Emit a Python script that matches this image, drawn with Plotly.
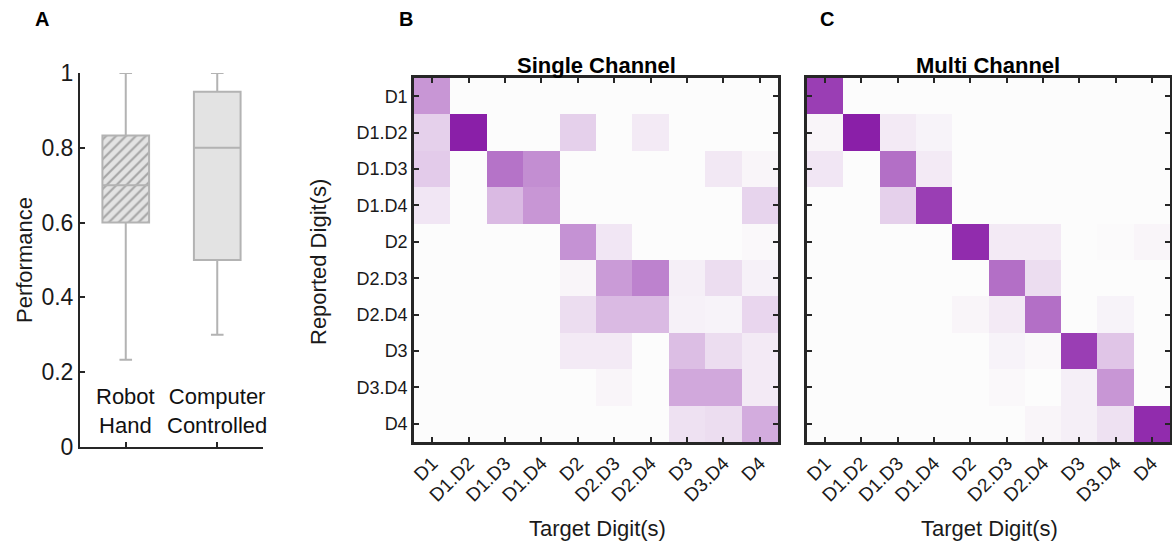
import plotly.graph_objects as go

FONT = "Liberation Sans, Arial, sans-serif"
DARK = "#262626"

# ---------------- Panel A data ----------------
group_labels = ["Robot<br>Hand", "Computer<br>Controlled"]
group_pos = [1, 2]
perf_q1 = [0.6, 0.5]
perf_median = [0.7, 0.8]
perf_q3 = [0.833, 0.95]
perf_low = [0.233, 0.3]
perf_high = [1.0, 1.0]
perf_ticks = [0, 0.2, 0.4, 0.6, 0.8, 1]
perf_ticklabels = ["0", "0.2", "0.4", "0.6", "0.8", "1"]

# ---------------- Panels B/C data ----------------
digits = ["D1", "D1.D2", "D1.D3", "D1.D4", "D2", "D2.D3", "D2.D4", "D3", "D3.D4", "D4"]

# rows = reported digit(s), columns = target digit(s)
single_channel = [
    [0.46, 0.00, 0.00, 0.00, 0.00, 0.00, 0.00, 0.00, 0.00, 0.00],
    [0.20, 1.00, 0.00, 0.00, 0.20, 0.00, 0.08, 0.00, 0.00, 0.00],
    [0.22, 0.00, 0.62, 0.50, 0.00, 0.00, 0.00, 0.00, 0.09, 0.03],
    [0.10, 0.00, 0.30, 0.46, 0.00, 0.00, 0.00, 0.00, 0.00, 0.18],
    [0.00, 0.00, 0.00, 0.00, 0.48, 0.10, 0.00, 0.00, 0.00, 0.02],
    [0.00, 0.00, 0.00, 0.00, 0.03, 0.44, 0.55, 0.06, 0.14, 0.05],
    [0.00, 0.00, 0.00, 0.00, 0.14, 0.30, 0.30, 0.05, 0.04, 0.17],
    [0.00, 0.00, 0.00, 0.00, 0.08, 0.08, 0.00, 0.28, 0.14, 0.08],
    [0.00, 0.00, 0.00, 0.00, 0.00, 0.03, 0.00, 0.38, 0.38, 0.08],
    [0.00, 0.00, 0.00, 0.00, 0.00, 0.00, 0.00, 0.12, 0.14, 0.36],
]

multi_channel = [
    [0.86, 0.00, 0.00, 0.00, 0.00, 0.00, 0.00, 0.00, 0.00, 0.00],
    [0.03, 1.00, 0.08, 0.04, 0.00, 0.00, 0.00, 0.00, 0.00, 0.00],
    [0.10, 0.00, 0.64, 0.08, 0.00, 0.00, 0.00, 0.00, 0.00, 0.00],
    [0.00, 0.00, 0.20, 0.86, 0.00, 0.00, 0.00, 0.00, 0.00, 0.00],
    [0.00, 0.00, 0.00, 0.00, 0.94, 0.08, 0.08, 0.00, 0.01, 0.03],
    [0.00, 0.00, 0.00, 0.00, 0.00, 0.64, 0.14, 0.00, 0.00, 0.00],
    [0.00, 0.00, 0.00, 0.00, 0.03, 0.08, 0.64, 0.00, 0.04, 0.00],
    [0.00, 0.00, 0.00, 0.00, 0.00, 0.04, 0.02, 0.86, 0.25, 0.00],
    [0.00, 0.00, 0.00, 0.00, 0.00, 0.02, 0.00, 0.06, 0.46, 0.00],
    [0.00, 0.00, 0.00, 0.00, 0.00, 0.00, 0.03, 0.06, 0.12, 0.94],
]

W, H = 1172, 553


def px_x(p):
    return p / W


def px_y(p):
    return 1 - p / H


fig = go.Figure()

BOX_LINE = "#b3b3b3"
BOX_FILL = "#e3e3e3"

# hatched fill for the Robot Hand box (drawn under its outline)
fig.add_trace(go.Bar(
    x=[group_pos[0]], y=[perf_q3[0] - perf_q1[0]], base=[perf_q1[0]],
    width=0.51,
    marker=dict(color=BOX_FILL, line=dict(width=0),
                pattern=dict(shape="/", fgcolor="#a6a6a6", bgcolor=BOX_FILL,
                             size=7, solidity=0.3)),
    xaxis="x", yaxis="y", showlegend=False, hoverinfo="skip",
))

fill_colors = ["rgba(0,0,0,0)", BOX_FILL]
for i in range(2):
    fig.add_trace(go.Box(
        x=[group_pos[i]], q1=[perf_q1[i]], median=[perf_median[i]], q3=[perf_q3[i]],
        lowerfence=[perf_low[i]], upperfence=[perf_high[i]],
        width=0.51, whiskerwidth=0.27, boxpoints=False,
        fillcolor=fill_colors[i], line=dict(color=BOX_LINE, width=2),
        xaxis="x", yaxis="y", showlegend=False,
    ))

colorscale = [[0, "#fcfcfc"], [1, "#8a1fa8"]]
fig.add_trace(go.Heatmap(z=single_channel, x=digits, y=digits, zmin=0, zmax=1,
                         colorscale=colorscale, showscale=False,
                         xaxis="x2", yaxis="y2"))
fig.add_trace(go.Heatmap(z=multi_channel, x=digits, y=digits, zmin=0, zmax=1,
                         colorscale=colorscale, showscale=False,
                         xaxis="x3", yaxis="y3"))

hm_top, hm_bot = px_y(78), px_y(442)

heat_x = dict(showline=True, linecolor=DARK, linewidth=2.5, mirror="ticks",
              ticks="inside", ticklen=5, tickwidth=1.5, tickcolor=DARK,
              tickangle=-45, tickfont=dict(family=FONT, size=19, color="#1a1a1a"),
              showgrid=False, zeroline=False, fixedrange=True, automargin=False)
heat_y = dict(showline=True, linecolor=DARK, linewidth=2.5, mirror="ticks",
              ticks="inside", ticklen=5, tickwidth=1.5, tickcolor=DARK,
              autorange="reversed", tickfont=dict(family=FONT, size=18, color="#1a1a1a"),
              showgrid=False, zeroline=False, fixedrange=True, domain=[hm_bot, hm_top],
              automargin=False)

fig.update_layout(
    template="none",
    width=W, height=H, autosize=False,
    margin=dict(l=0, r=0, t=0, b=0, pad=0, autoexpand=False),
    paper_bgcolor="white", plot_bgcolor="white",
    font=dict(family=FONT, color="#1a1a1a"),
    barmode="overlay", boxmode="overlay",
    xaxis=dict(domain=[px_x(80), px_x(263)], range=[0.5, 2.5], anchor="y",
               tickvals=group_pos, ticktext=["", ""], ticks="inside", ticklen=5,
               tickwidth=1.5, tickcolor=DARK, showline=True, linecolor=DARK,
               linewidth=2, showgrid=False, zeroline=False, fixedrange=True,
               automargin=False),
    yaxis=dict(domain=[px_y(447), px_y(73)], range=[0, 1], anchor="x",
               tickvals=perf_ticks, ticktext=perf_ticklabels, ticks="inside",
               ticklen=5, tickwidth=1.5, tickcolor=DARK, showline=True,
               linecolor=DARK, linewidth=2, showgrid=False, zeroline=False,
               tickfont=dict(family=FONT, size=23, color="#1a1a1a"), fixedrange=True,
               automargin=False),
    xaxis2=dict(domain=[px_x(414), px_x(778)], anchor="y2", **heat_x),
    yaxis2=dict(anchor="x2", **heat_y),
    xaxis3=dict(domain=[px_x(807), px_x(1170)], anchor="y3", **heat_x),
    yaxis3=dict(anchor="x3", showticklabels=False, **heat_y),
)

C = dict(xanchor="center", yanchor="middle", showarrow=False)
ann = []
# box group labels inside panel A
for i in range(2):
    ann.append(dict(x=group_pos[i], y=0.097, xref="x", yref="y", text=group_labels[i],
                    font=dict(family=FONT, size=22, color="#111"), align="center", **C))
ann += [
    dict(x=px_x(24), y=px_y(260), xref="paper", yref="paper", text="Performance",
         textangle=-90, font=dict(family=FONT, size=22, color="#1a1a1a"), **C),
    dict(x=px_x(318), y=px_y(262), xref="paper", yref="paper", text="Reported Digit(s)",
         textangle=-90, font=dict(family=FONT, size=22, color="#1a1a1a"), **C),
    dict(x=px_x(597), y=px_y(528), xref="paper", yref="paper", text="Target Digit(s)",
         font=dict(family=FONT, size=22, color="#1a1a1a"), **C),
    dict(x=px_x(989), y=px_y(528), xref="paper", yref="paper", text="Target Digit(s)",
         font=dict(family=FONT, size=22, color="#1a1a1a"), **C),
    dict(x=px_x(596), y=px_y(66), xref="paper", yref="paper", text="<b>Single Channel</b>",
         font=dict(family=FONT, size=22, color="#000"), **C),
    dict(x=px_x(988), y=px_y(66), xref="paper", yref="paper", text="<b>Multi Channel</b>",
         font=dict(family=FONT, size=22, color="#000"), **C),
    dict(x=px_x(42), y=px_y(19), xref="paper", yref="paper", text="<b>A</b>",
         font=dict(family=FONT, size=20, color="#000"), **C),
    dict(x=px_x(406), y=px_y(19), xref="paper", yref="paper", text="<b>B</b>",
         font=dict(family=FONT, size=20, color="#000"), **C),
    dict(x=px_x(827), y=px_y(19), xref="paper", yref="paper", text="<b>C</b>",
         font=dict(family=FONT, size=20, color="#000"), **C),
]
fig.update_layout(annotations=ann)

fig.write_html("out.html")
